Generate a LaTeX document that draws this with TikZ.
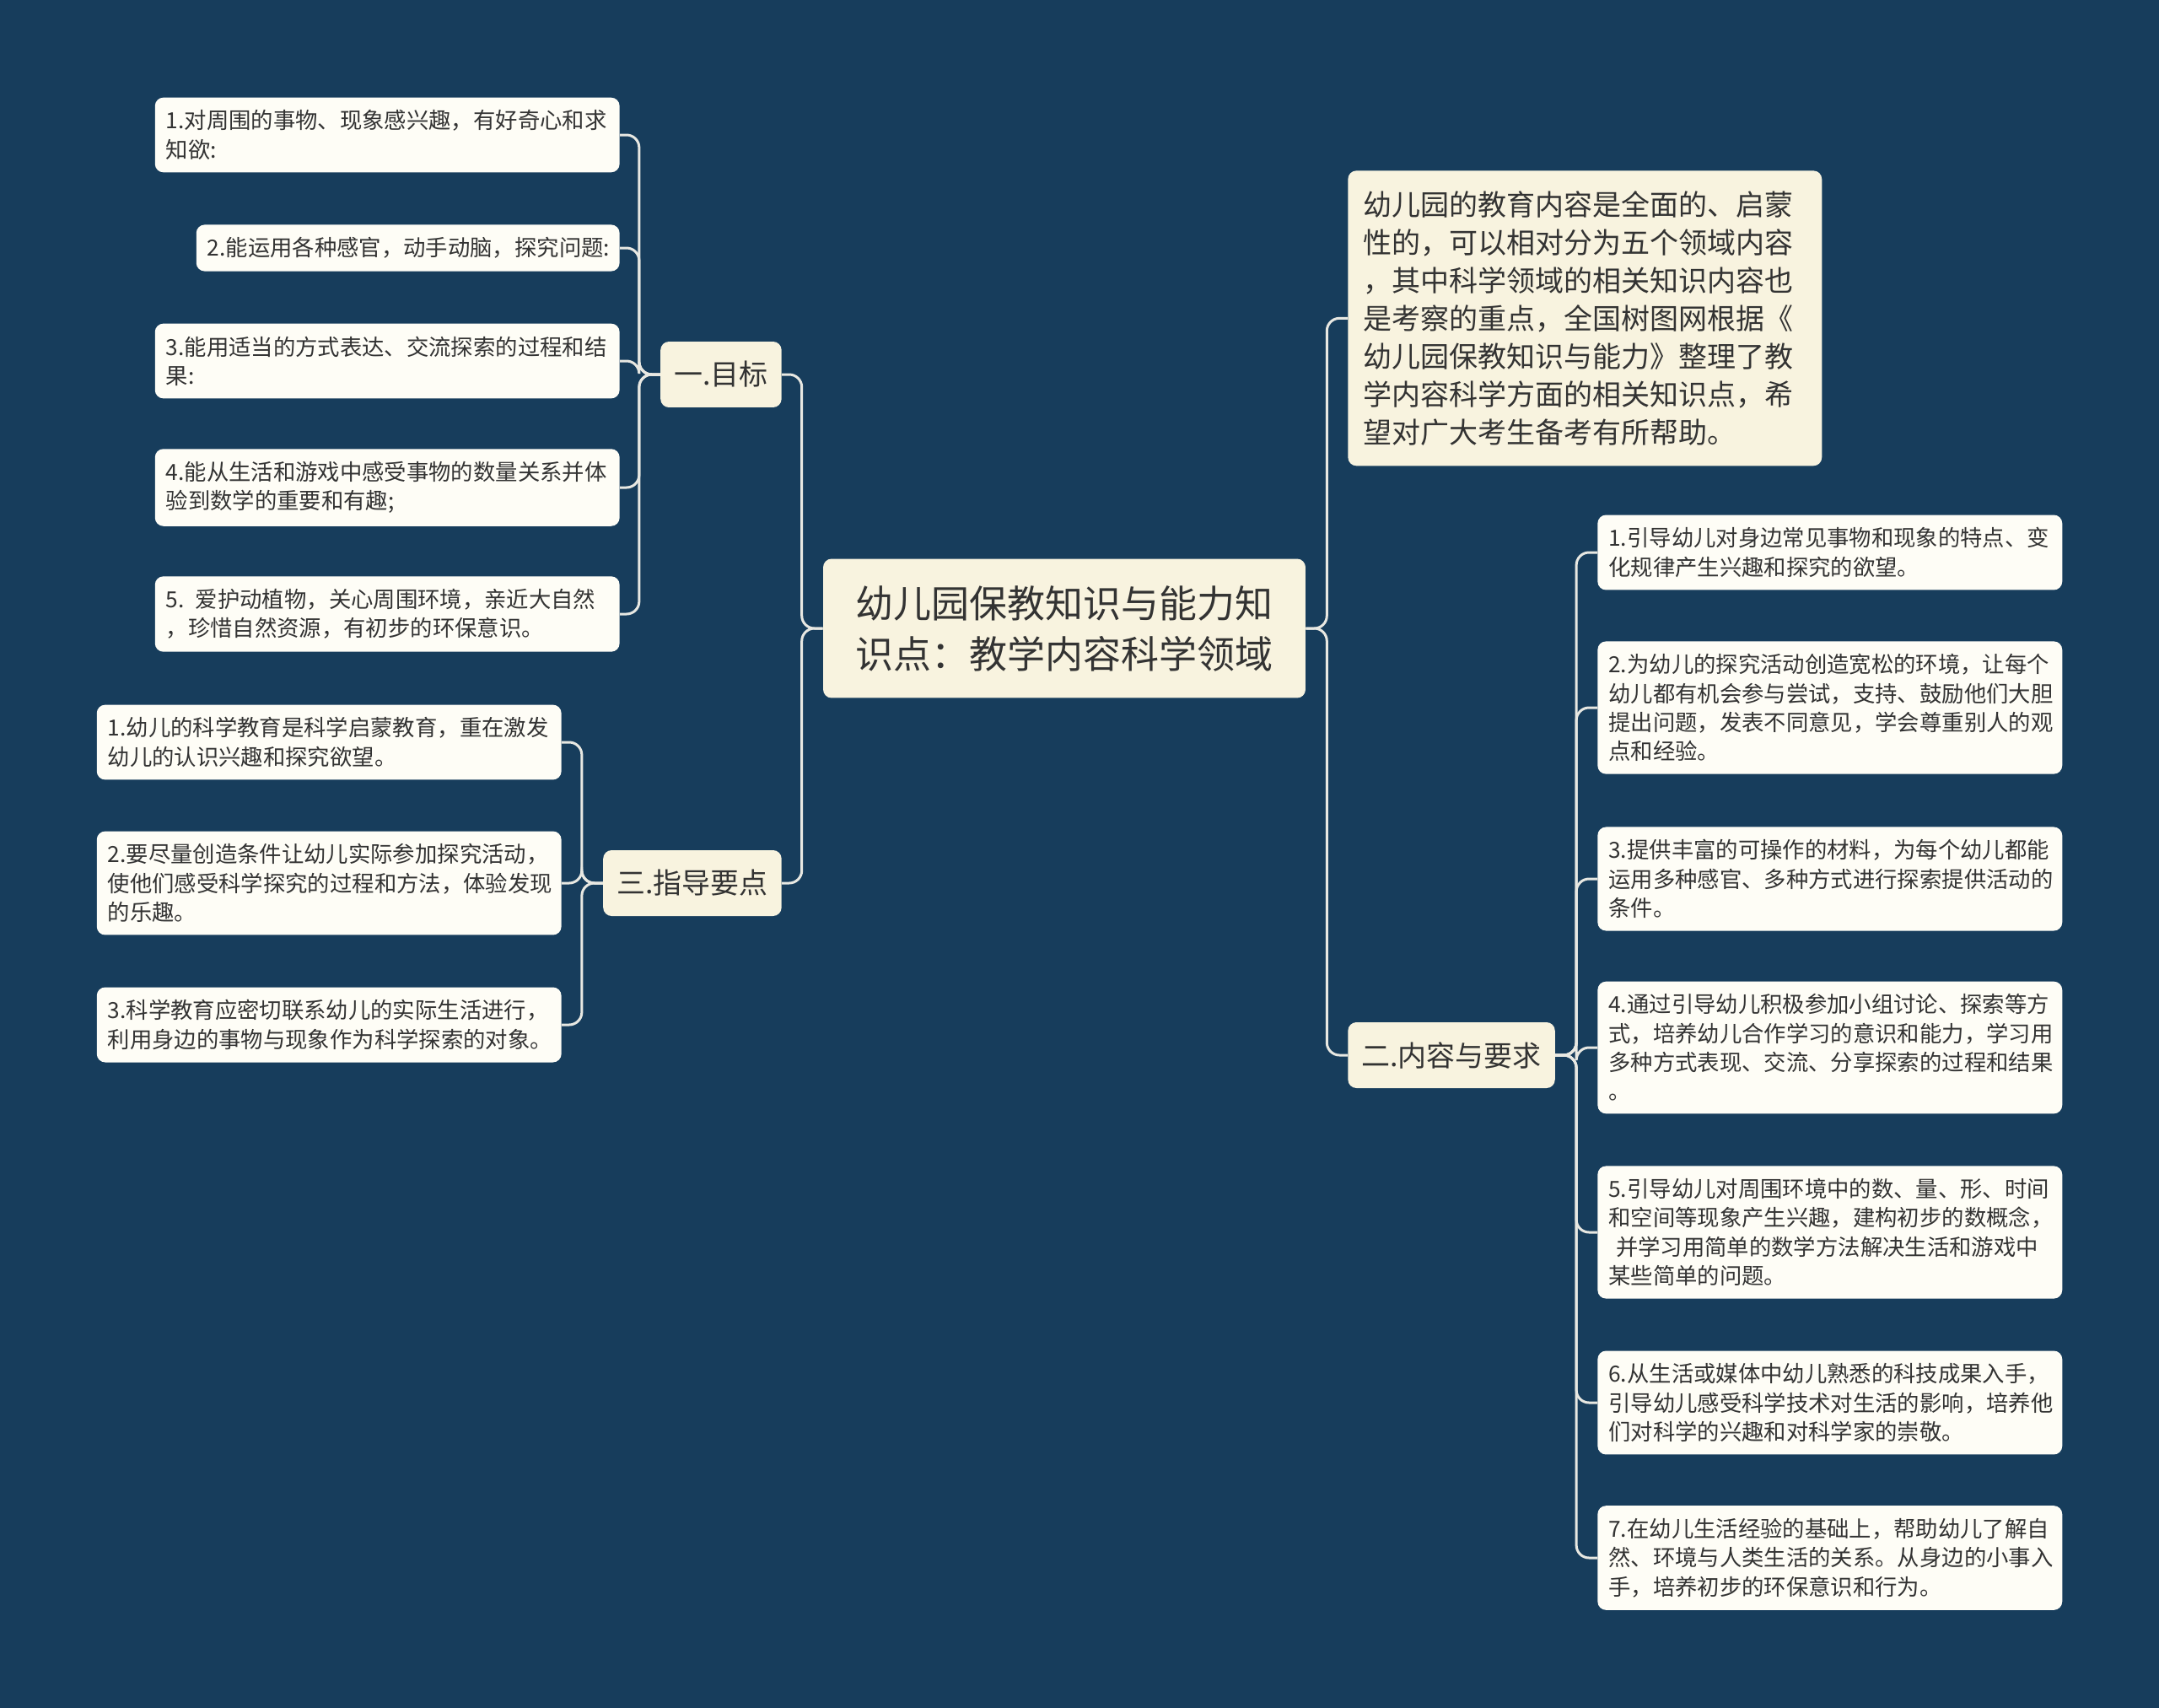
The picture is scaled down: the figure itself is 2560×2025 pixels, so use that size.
\documentclass[tikz,border=0pt]{standalone}
\usepackage{fontspec}
\setmainfont{Noto Sans CJK SC}
\usetikzlibrary{positioning}
\definecolor{bgblue}{HTML}{173D5C}
\definecolor{cream}{HTML}{F8F3DF}
\definecolor{leafwhite}{HTML}{FEFDF6}
\definecolor{inkgray}{HTML}{333333}
\definecolor{linkgray}{HTML}{E8E8E2}
\tikzset{
  rootbox/.style={rounded corners=0.2cm, fill=cream, text=inkgray, font=\fontsize{25.6pt}{34.1pt}\selectfont, align=center, minimum width=11.44cm, minimum height=3.3cm},
  topicbox/.style={rounded corners=0.2cm, fill=cream, text=inkgray, font=\fontsize{19.35pt}{25.6pt}\selectfont, inner xsep=0.32cm, minimum height=1.56cm},
  introbox/.style={rounded corners=0.2cm, fill=cream, text=inkgray, font=\fontsize{19.35pt}{25.6pt}\selectfont, align=left, text width=10.52cm, inner xsep=0.36cm, minimum height=7cm},
  leafbox/.style={rounded corners=0.2cm, fill=leafwhite, text=inkgray, font=\fontsize{15pt}{19.5pt}\selectfont, align=left, text width=10.5cm, inner xsep=0.26cm, inner ysep=0.3cm},
  link/.style={draw=linkgray, line width=0.06cm, rounded corners=0.3cm}
}
\begin{document}
\begin{tikzpicture}[x=0.02cm, y=-0.02cm]
  \fill[bgblue] (0,0) rectangle (2560,2025);
  \useasboundingbox (0,0) rectangle (2560,2025);

  \node[rootbox] (root) at (1262,745) {幼儿园保教知识与能力知\\识点：教学内容科学领域};

  % left side
  \node[topicbox, anchor=east] (goal) at (927,444) {一.目标};
  \node[topicbox, anchor=east] (guide) at (927,1047) {三.指导要点};
  % right side
  \node[introbox, anchor=north west] (intro) at (1598,202) {幼儿园的教育内容是全面的、启蒙\\性的，可以相对分为五个领域内容\\，其中科学领域的相关知识内容也\\是考察的重点，全国树图网根据《\\幼儿园保教知识与能力》整理了教\\学内容科学方面的相关知识点，希\\望对广大考生备考有所帮助。};
  \node[topicbox, anchor=west] (content) at (1598,1251) {二.内容与要求};

  \node[leafbox, anchor=east] (g1) at (735,160) {1.对周围的事物、现象感兴趣，有好奇心和求\\知欲:};
  \node[leafbox, anchor=east, text width=9.52cm] (g2) at (735,294) {2.能运用各种感官，动手动脑，探究问题:};
  \node[leafbox, anchor=east] (g3) at (735,428) {3.能用适当的方式表达、交流探索的过程和结\\果:};
  \node[leafbox, anchor=east] (g4) at (735,578) {4.能从生活和游戏中感受事物的数量关系并体\\验到数学的重要和有趣;};
  \node[leafbox, anchor=east] (g5) at (735,728) {5. 爱护动植物，关心周围环境，亲近大自然\\，珍惜自然资源，有初步的环保意识。};

  \node[leafbox, anchor=east] (d1) at (666,880) {1.幼儿的科学教育是科学启蒙教育，重在激发\\幼儿的认识兴趣和探究欲望。};
  \node[leafbox, anchor=east] (d2) at (666,1047) {2.要尽量创造条件让幼儿实际参加探究活动，\\使他们感受科学探究的过程和方法，体验发现\\的乐趣。};
  \node[leafbox, anchor=east] (d3) at (666,1215) {3.科学教育应密切联系幼儿的实际生活进行，\\利用身边的事物与现象作为科学探索的对象。};

  \node[leafbox, anchor=west] (c1) at (1894,655) {1.引导幼儿对身边常见事物和现象的特点、变\\化规律产生兴趣和探究的欲望。};
  \node[leafbox, anchor=west] (c2) at (1894,839) {2.为幼儿的探究活动创造宽松的环境，让每个\\幼儿都有机会参与尝试，支持、鼓励他们大胆\\提出问题，发表不同意见，学会尊重别人的观\\点和经验。};
  \node[leafbox, anchor=west] (c3) at (1894,1042) {3.提供丰富的可操作的材料，为每个幼儿都能\\运用多种感官、多种方式进行探索提供活动的\\条件。};
  \node[leafbox, anchor=west] (c4) at (1894,1242) {4.通过引导幼儿积极参加小组讨论、探索等方\\式，培养幼儿合作学习的意识和能力，学习用\\多种方式表现、交流、分享探索的过程和结果\\。};
  \node[leafbox, anchor=west] (c5) at (1894,1461) {5.引导幼儿对周围环境中的数、量、形、时间\\和空间等现象产生兴趣，建构初步的数概念，\\\ 并学习用简单的数学方法解决生活和游戏中\\某些简单的问题。};
  \node[leafbox, anchor=west] (c6) at (1894,1663) {6.从生活或媒体中幼儿熟悉的科技成果入手，\\引导幼儿感受科学技术对生活的影响，培养他\\们对科学的兴趣和对科学家的崇敬。};
  \node[leafbox, anchor=west] (c7) at (1894,1847) {7.在幼儿生活经验的基础上，帮助幼儿了解自\\然、环境与人类生活的关系。从身边的小事入\\手，培养初步的环保意识和行为。};

  % connectors
  \foreach \n in {goal,guide}
    \draw[link] (root.west) -- ++(-0.5cm,0) |- (\n.east);
  \foreach \n in {intro,content}
    \draw[link] (root.east) -- ++(0.5cm,0) |- (\n.west);
  \foreach \n in {g1,g2,g3,g4,g5}
    \draw[link] (goal.west) -- ++(-0.5cm,0) |- (\n.east);
  \foreach \n in {d1,d2,d3}
    \draw[link] (guide.west) -- ++(-0.5cm,0) |- (\n.east);
  \foreach \n in {c1,c2,c3,c4,c5,c6,c7}
    \draw[link] (content.east) -- ++(0.5cm,0) |- (\n.west);
\end{tikzpicture}
\end{document}
